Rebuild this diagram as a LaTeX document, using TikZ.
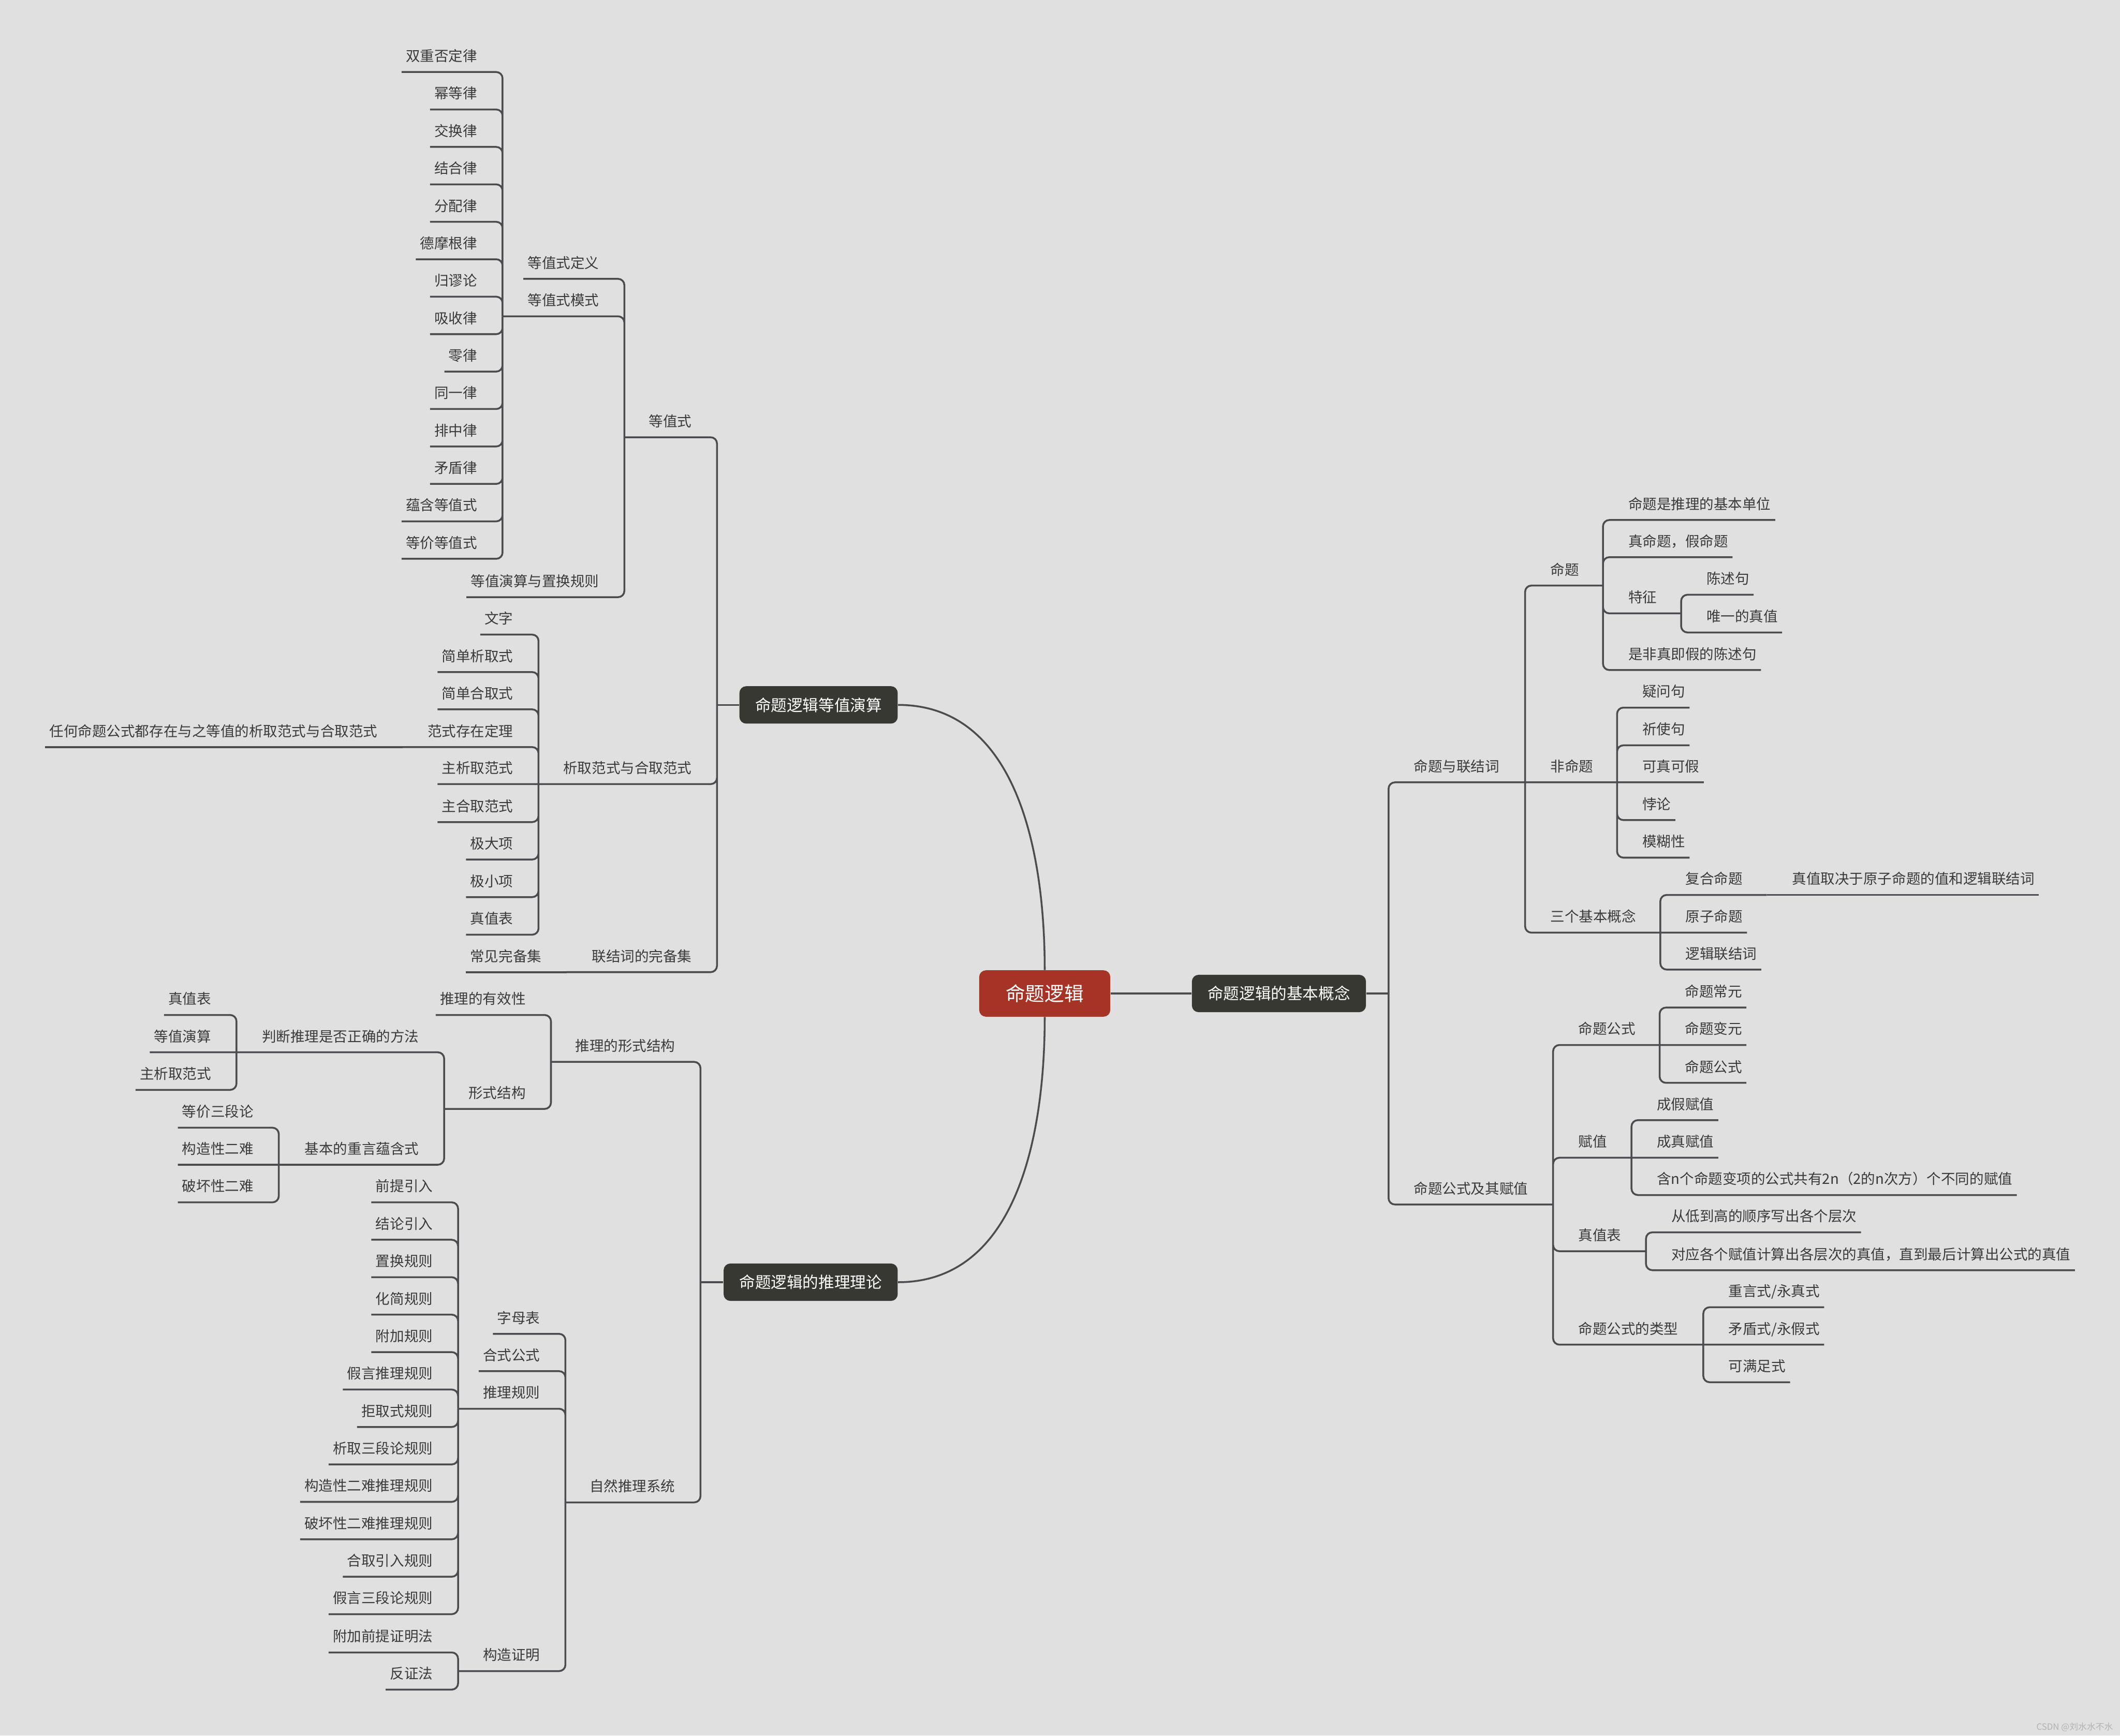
\documentclass[tikz,border=0pt]{standalone}
\usepackage{fontspec}
\setmainfont{Noto Sans CJK SC}
\definecolor{bgc}{RGB}{224,224,224}
\definecolor{linec}{RGB}{76,76,80}
\definecolor{txtc}{RGB}{58,58,58}
\definecolor{boxc}{RGB}{56,56,50}
\definecolor{rootc}{RGB}{166,52,38}
\definecolor{wmc}{RGB}{178,178,178}
\begin{document}
\begin{tikzpicture}[x=0.03cm,y=-0.03cm,
  topic/.style={font=\fontsize{9pt}{10pt}\selectfont,text=txtc,inner xsep=0.09cm,inner ysep=0pt,text height=0.3cm,text depth=0.23cm},
  tpr/.style={topic,anchor=south west},
  tpl/.style={topic,anchor=south east},
  mainbox/.style={rounded corners=0.15cm,fill=boxc,text=white,font=\fontsize{10pt}{12pt}\selectfont,inner xsep=0.35cm,inner ysep=0pt,minimum height=0.83cm},
  centerbox/.style={rounded corners=0.15cm,fill=rootc,text=white,font=\fontsize{12.3pt}{14pt}\selectfont,inner xsep=0.59cm,inner ysep=0pt,minimum height=1.03cm},
  link/.style={draw=linec,line width=1.15pt,rounded corners=0.14cm}]
\fill[bgc](0,0)rectangle(1568,1284);
\useasboundingbox(0,0)rectangle(1568,1284);
\node[centerbox](R)at(772.7,735){命题逻辑};
\node[mainbox,anchor=west](B)at(881.3,735){命题逻辑的基本概念};
\node[mainbox,anchor=east](A)at(664.2,521.5){命题逻辑等值演算};
\node[mainbox,anchor=east](C)at(664.2,948.6){命题逻辑的推理理论};
\draw[link](R.north)to[out=90,in=0](A.east);
\draw[link](R.south)to[out=-90,in=0](C.east);
\coordinate(Bj)at(1027,735);
\node[tpr](B1)at(1042.5,578.8){命题与联结词};
\coordinate(B1j)at(1128,578.8);
\node[tpr](B2)at(1042.5,891.1){命题公式及其赋值};
\coordinate(B2j)at(1148.7,891.1);
\node[tpr](B11)at(1143.5,433.2){命题};
\coordinate(B11j)at(1185.6,433.2);
\node[tpr](B12)at(1143.5,578.8){非命题};
\coordinate(B12j)at(1196,578.8);
\node[tpr](B13)at(1143.5,690){三个基本概念};
\coordinate(B13j)at(1228,690);
\node[tpr](B111)at(1201.1,384.7){命题是推理的基本单位};
\node[tpr](B112)at(1201.1,412.2){真命题，假命题};
\node[tpr](B113)at(1201.1,453.8){特征};
\coordinate(B113j)at(1243.4,453.8);
\node[tpr](B114)at(1201.1,495.7){是非真即假的陈述句};
\node[tpr](B1131)at(1258.9,440){陈述句};
\node[tpr](B1132)at(1258.9,467.9){唯一的真值};
\node[tpr](B121)at(1211.5,523.5){疑问句};
\node[tpr](B122)at(1211.5,551.4){祈使句};
\node[tpr](B123)at(1211.5,578.8){可真可假};
\node[tpr](B124)at(1211.5,606.7){悖论};
\node[tpr](B125)at(1211.5,634.5){模糊性};
\node[tpr](B131)at(1243.5,662.1){复合命题};
\coordinate(B131j)at(1306.8,662.1);
\node[tpr](B1311)at(1322.3,662.1){真值取决于原子命题的值和逻辑联结词};
\node[tpr](B132)at(1243.5,690){原子命题};
\node[tpr](B133)at(1243.5,717.3){逻辑联结词};
\node[tpr](B21)at(1164.2,773.1){命题公式};
\coordinate(B21j)at(1227.5,773.1);
\node[tpr](B22)at(1164.2,856.5){赋值};
\coordinate(B22j)at(1206.7,856.5);
\node[tpr](B23)at(1164.2,925.7){真值表};
\coordinate(B23j)at(1217.4,925.7);
\node[tpr](B24)at(1164.2,994.8){命题公式的类型};
\coordinate(B24j)at(1259.8,994.8);
\node[tpr](B211)at(1243,745.4){命题常元};
\node[tpr](B212)at(1243,773.1){命题变元};
\node[tpr](B213)at(1243,801.1){命题公式};
\node[tpr](B221)at(1222.2,828.7){成假赋值};
\node[tpr](B222)at(1222.2,856.5){成真赋值};
\node[tpr](B223)at(1222.2,884.1){含n个命题变项的公式共有2n（2的n次方）个不同的赋值};
\node[tpr](B231)at(1232.9,911.7){从低到高的顺序写出各个层次};
\node[tpr](B232)at(1232.9,939.7){对应各个赋值计算出各层次的真值，直到最后计算出公式的真值};
\node[tpr](B241)at(1275.3,967.1){重言式/永真式};
\node[tpr](B242)at(1275.3,994.8){矛盾式/永假式};
\node[tpr](B243)at(1275.3,1022.6){可满足式};
\draw[link](R.east)--(B.west)(B.east)--(Bj);
\draw[link](Bj)|-(B1j)(Bj)|-(B2j);
\draw[link](B1j)|-(B11j)(B1j)--(B12j)(B1j)|-(B13j);
\draw[link](B11j)|-(B111.south east)(B11j)|-(B112.south east)(B11j)|-(B113j)(B11j)|-(B114.south east);
\draw[link](B113j)|-(B1131.south east)(B113j)|-(B1132.south east);
\draw[link](B12j)|-(B121.south east)(B12j)|-(B122.south east)(B12j)--(B123.south east)(B12j)|-(B124.south east)(B12j)|-(B125.south east);
\draw[link](B13j)|-(B131j)(B13j)--(B132.south east)(B13j)|-(B133.south east);
\draw[link](B131j)--(B1311.south east);
\draw[link](B2j)|-(B21j)(B2j)|-(B22j)(B2j)|-(B23j)(B2j)|-(B24j);
\draw[link](B21j)|-(B211.south east)(B21j)--(B212.south east)(B21j)|-(B213.south east);
\draw[link](B22j)|-(B221.south east)(B22j)--(B222.south east)(B22j)|-(B223.south east);
\draw[link](B23j)|-(B231.south east)(B23j)|-(B232.south east);
\draw[link](B24j)|-(B241.south east)(B24j)--(B242.south east)(B24j)|-(B243.south east);
\coordinate(Aj)at(530.3,521.5);
\node[tpl](A1)at(514.8,323.5){等值式};
\coordinate(A1j)at(461.8,323.5);
\node[tpl](A2)at(514.8,580.1){析取范式与合取范式};
\coordinate(A2j)at(398.3,580.1);
\node[tpl](A3)at(514.8,719.2){联结词的完备集};
\coordinate(A3j)at(419.2,719.2);
\node[tpl](A11)at(446.3,206.3){等值式定义};
\node[tpl](A12)at(446.3,234){等值式模式};
\coordinate(A12j)at(371.7,234);
\node[tpl](A13)at(446.3,441.8){等值演算与置换规则};
\node[tpl](L1)at(356.2,53.3){双重否定律};
\node[tpl](L2)at(356.2,81){幂等律};
\node[tpl](L3)at(356.2,108.7){交换律};
\node[tpl](L4)at(356.2,136.4){结合律};
\node[tpl](L5)at(356.2,164.1){分配律};
\node[tpl](L6)at(356.2,191.8){德摩根律};
\node[tpl](L7)at(356.2,219.5){归谬论};
\node[tpl](L8)at(356.2,247.2){吸收律};
\node[tpl](L9)at(356.2,274.9){零律};
\node[tpl](L10)at(356.2,302.6){同一律};
\node[tpl](L11)at(356.2,330.3){排中律};
\node[tpl](L12)at(356.2,358){矛盾律};
\node[tpl](L13)at(356.2,385.7){蕴含等值式};
\node[tpl](L14)at(356.2,413.4){等价等值式};
\node[tpl](A21)at(382.8,469.5){文字};
\node[tpl](A22)at(382.8,497.2){简单析取式};
\node[tpl](A23)at(382.8,524.8){简单合取式};
\node[tpl](A24)at(382.8,552.7){范式存在定理};
\coordinate(A24j)at(297.9,552.7);
\node[tpl](A241)at(282.4,552.7){任何命题公式都存在与之等值的析取范式与合取范式};
\node[tpl](A25)at(382.8,580.1){主析取范式};
\node[tpl](A26)at(382.8,608.2){主合取范式};
\node[tpl](A27)at(382.8,635.9){极大项};
\node[tpl](A28)at(382.8,663.7){极小项};
\node[tpl](A29)at(382.8,691.5){真值表};
\node[tpl](A31)at(403.7,719.2){常见完备集};
\draw[link](A.west)--(Aj);
\draw[link](Aj)|-(A1j)(Aj)|-(A2j)(Aj)|-(A3j);
\draw[link](A1j)|-(A11.south west)(A1j)|-(A12j)(A1j)|-(A13.south west);
\draw[link](A12j)|-(L1.south west)(A12j)|-(L2.south west)(A12j)|-(L3.south west)(A12j)|-(L4.south west)(A12j)|-(L5.south west)(A12j)|-(L6.south west)(A12j)|-(L7.south west);
\draw[link](A12j)|-(L8.south west)(A12j)|-(L9.south west)(A12j)|-(L10.south west)(A12j)|-(L11.south west)(A12j)|-(L12.south west)(A12j)|-(L13.south west)(A12j)|-(L14.south west);
\draw[link](A2j)|-(A21.south west)(A2j)|-(A22.south west)(A2j)|-(A23.south west)(A2j)|-(A24j)(A2j)--(A25.south west);
\draw[link](A2j)|-(A26.south west)(A2j)|-(A27.south west)(A2j)|-(A28.south west)(A2j)|-(A29.south west);
\draw[link](A24j)--(A241.south west);
\draw[link](A3j)--(A31.south west);
\coordinate(Cj)at(518.1,948.6);
\node[tpl](C1)at(502.6,785.6){推理的形式结构};
\coordinate(C1j)at(407.5,785.6);
\node[tpl](C2)at(502.6,1111.5){自然推理系统};
\coordinate(C2j)at(418.2,1111.5);
\node[tpl](C11)at(392,750.9){推理的有效性};
\node[tpl](C12)at(392,820.4){形式结构};
\coordinate(C12j)at(328.5,820.4);
\node[tpl](C121)at(313,778.5){判断推理是否正确的方法};
\coordinate(C121j)at(174.9,778.5);
\node[tpl](C122)at(313,861.7){基本的重言蕴含式};
\coordinate(C122j)at(206.2,861.7);
\node[tpl](C1211)at(159.4,750.9){真值表};
\node[tpl](C1212)at(159.4,778.5){等值演算};
\node[tpl](C1213)at(159.4,806.3){主析取范式};
\node[tpl](C1221)at(190.7,834.3){等价三段论};
\node[tpl](C1222)at(190.7,861.7){构造性二难};
\node[tpl](C1223)at(190.7,889.5){破坏性二难};
\node[tpl](C21)at(402.7,986.8){字母表};
\node[tpl](C22)at(402.7,1014.4){合式公式};
\node[tpl](C23)at(402.7,1042.2){推理规则};
\coordinate(C23j)at(338.8,1042.2);
\node[tpl](C24)at(402.7,1236.3){构造证明};
\coordinate(C24j)at(338.8,1236.3);
\node[tpl](G1)at(323.3,889.5){前提引入};
\node[tpl](G2)at(323.3,917.2){结论引入};
\node[tpl](G3)at(323.3,944.9){置换规则};
\node[tpl](G4)at(323.3,972.6){化简规则};
\node[tpl](G5)at(323.3,1000.3){附加规则};
\node[tpl](G6)at(323.3,1028){假言推理规则};
\node[tpl](G7)at(323.3,1055.7){拒取式规则};
\node[tpl](G8)at(323.3,1083.4){析取三段论规则};
\node[tpl](G9)at(323.3,1111.1){构造性二难推理规则};
\node[tpl](G10)at(323.3,1138.8){破坏性二难推理规则};
\node[tpl](G11)at(323.3,1166.5){合取引入规则};
\node[tpl](G12)at(323.3,1194.2){假言三段论规则};
\node[tpl](C241)at(323.3,1222.5){附加前提证明法};
\node[tpl](C242)at(323.3,1250){反证法};
\draw[link](C.west)--(Cj);
\draw[link](Cj)|-(C1j)(Cj)|-(C2j);
\draw[link](C1j)|-(C11.south west)(C1j)|-(C12j);
\draw[link](C12j)|-(C121j)(C12j)|-(C122j);
\draw[link](C121j)|-(C1211.south west)(C121j)--(C1212.south west)(C121j)|-(C1213.south west);
\draw[link](C122j)|-(C1221.south west)(C122j)--(C1222.south west)(C122j)|-(C1223.south west);
\draw[link](C2j)|-(C21.south west)(C2j)|-(C22.south west)(C2j)|-(C23j)(C2j)|-(C24j);
\draw[link](C23j)|-(G1.south west)(C23j)|-(G2.south west)(C23j)|-(G3.south west)(C23j)|-(G4.south west)(C23j)|-(G5.south west)(C23j)|-(G6.south west);
\draw[link](C23j)|-(G7.south west)(C23j)|-(G8.south west)(C23j)|-(G9.south west)(C23j)|-(G10.south west)(C23j)|-(G11.south west)(C23j)|-(G12.south west);
\draw[link](C24j)|-(C241.south west)(C24j)|-(C242.south west);
\node[font=\fontsize{5.5pt}{6pt}\selectfont,text=wmc](W)at(1534.5,1277.7){CSDN @刘水水不水};
\end{tikzpicture}
\end{document}
